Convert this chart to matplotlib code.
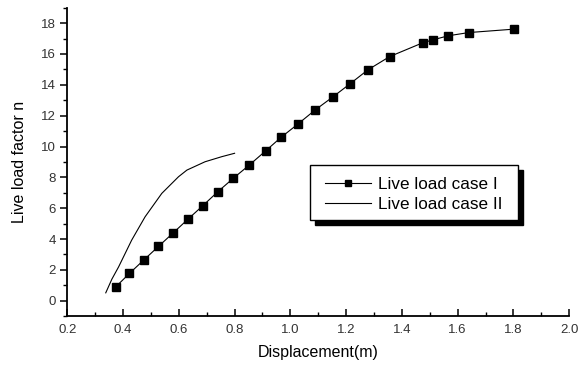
import matplotlib
matplotlib.use("Agg")
import matplotlib.pyplot as plt
from matplotlib.ticker import MultipleLocator
from matplotlib.patches import Rectangle
from matplotlib.lines import Line2D

plt.rcParams['font.family'] = ['Liberation Sans', 'DejaVu Sans']

case1_x = [0.374, 0.423, 0.475, 0.527, 0.580, 0.633, 0.686, 0.740, 0.796, 0.853,
           0.911, 0.967, 1.026, 1.089, 1.152, 1.215, 1.278, 1.356, 1.474, 1.512,
           1.566, 1.640, 1.801]
case1_y = [0.90, 1.77, 2.65, 3.52, 4.40, 5.29, 6.16, 7.07, 7.95, 8.80,
           9.71, 10.60, 11.44, 12.37, 13.21, 14.08, 14.97, 15.83, 16.72, 16.92,
           17.18, 17.39, 17.61]

case2_x = [0.338, 0.360, 0.384, 0.431, 0.479, 0.539, 0.599, 0.629, 0.694, 0.754, 0.800]
case2_y = [0.51, 1.40, 2.19, 3.93, 5.44, 6.96, 8.04, 8.47, 9.01, 9.34, 9.56]

xticks = [0.2, 0.4, 0.6, 0.8, 1.0, 1.2, 1.4, 1.6, 1.8, 2.0]
yticks = [0, 2, 4, 6, 8, 10, 12, 14, 16, 18]

fig = plt.figure(figsize=(5.85, 3.68), dpi=100)
ax = fig.add_axes([0.115, 0.141, 0.858, 0.838])

ax.plot(case1_x, case1_y, color='black', lw=0.8, marker='s', markersize=5.2,
        markerfacecolor='black', markeredgecolor='black')
ax.plot(case2_x, case2_y, color='black', lw=0.8)

ax.set_xlim(0.2, 2.0)
ax.set_ylim(-1, 19)
ax.set_xticks(xticks)
ax.set_xticklabels([f"{v:.1f}" for v in xticks])
ax.set_yticks(yticks)
ax.set_yticklabels([str(v) for v in yticks])
ax.xaxis.set_minor_locator(MultipleLocator(0.1))
ax.yaxis.set_minor_locator(MultipleLocator(1))

for s in ['top', 'right']:
    ax.spines[s].set_visible(False)
for s in ['left', 'bottom']:
    ax.spines[s].set_linewidth(1.3)

ax.tick_params(axis='x', which='major', direction='in', length=5, width=1.1, labelsize=9.5, pad=6, labelcolor='#333333')
ax.tick_params(axis='x', which='minor', direction='in', length=3, width=1.0)
ax.tick_params(axis='y', which='major', direction='out', length=5, width=1.1, labelsize=9.5, pad=3, labelcolor='#333333')
ax.tick_params(axis='y', which='minor', direction='out', length=3, width=1.0)

ax.set_xlabel('Displacement(m)', fontsize=11.5, labelpad=6)
ax.set_ylabel('Live load factor n', fontsize=11.5, labelpad=10)

# legend box with drop shadow
lx, ly, lw_, lh = 310/585, 1 - 220/368, 208/585, 55/368
shadow = Rectangle((lx + 5/585, ly - 5/368), lw_, lh, transform=fig.transFigure,
                   facecolor='black', edgecolor='black', zorder=5)
frame = Rectangle((lx, ly), lw_, lh, transform=fig.transFigure,
                  facecolor='white', edgecolor='black', lw=1.0, zorder=6)
fig.patches.extend([shadow, frame])

h1 = Line2D([], [], color='black', lw=0.8, marker='s', markersize=4)
h2 = Line2D([], [], color='black', lw=0.8)
leg = fig.legend(handles=[h1, h2], labels=['Live load case I', 'Live load case II'],
                 loc='center left', bbox_to_anchor=(325/585, 1 - 194.2/368),
                 frameon=False, fontsize=12.3, handlelength=2.7,
                 borderpad=0, labelspacing=0.3, handletextpad=0.4,
                 borderaxespad=0)
leg.set_zorder(7)

fig.savefig('out.png', dpi=100)
